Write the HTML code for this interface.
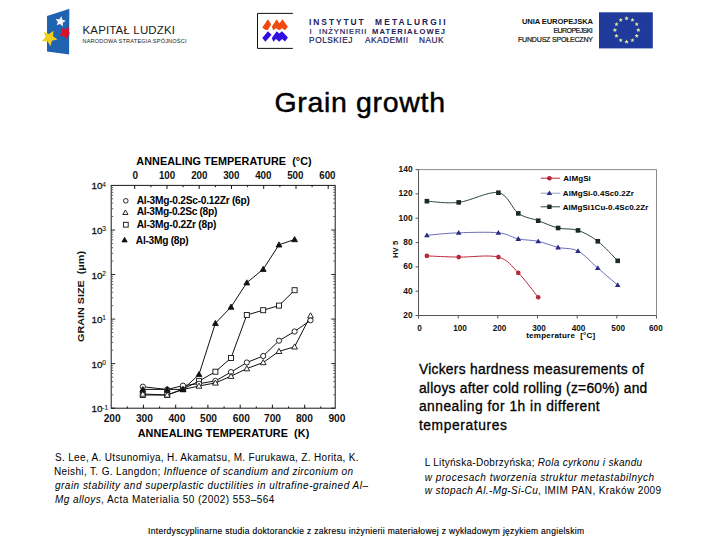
<!DOCTYPE html>
<html><head><meta charset="utf-8"><style>
html,body{margin:0;padding:0;background:#fff;}
body{width:720px;height:540px;position:relative;overflow:hidden;}
svg{position:absolute;left:0;top:0;}
</style></head><body>
<svg width="720" height="540" viewBox="0 0 720 540">
<polygon points="47,16 69.6,8.7 69.3,54.6 47,51.5" fill="#1e62b0"/>
<polygon points="53.5,30.7 53.0,36.3 57.5,39.6 52.0,40.8 50.3,46.2 47.5,41.3 41.8,41.3 45.6,37.1 43.8,31.7 49.0,34.0" fill="#f2cf1d"/>
<polygon points="61.5,16.1 62.4,19.7 65.9,20.7 62.8,22.7 62.9,26.4 60.0,24.1 56.5,25.3 57.9,21.9 55.6,18.9 59.4,19.2" fill="#f4f4fb"/>
<polygon points="68.9,26.9 68.8,31.3 72.2,34.2 67.9,35.5 66.2,39.6 63.7,35.9 59.3,35.6 62.0,32.1 60.9,27.7 65.1,29.2" fill="#d4122a"/>
<polygon points="69.6,8 80,8 80,60 69.3,60" fill="#fff"/>
<polyline points="292.9,13.4 257.5,13.4 257.5,48.4 292.9,48.4" fill="none" stroke="#111" stroke-width="1"/>
<polygon points="262.3,27.6 267.9,19.2 271.2,24.2 267.9,30.1 265.0,29.8" fill="#f04a10"/>
<polygon points="271.8,26.8 276.7,19.2 279.3,23.4 282.5,19.2 287.9,26.8 285.0,30.3 282.1,28.2 279.2,30.3 276.0,28.2 273.3,30.3" fill="#f04a10"/>
<polygon points="262.3,38.0 267.9,31.3 271.5,34.7 265.4,41.8" fill="#3010e0"/>
<polygon points="271.8,38.0 276.7,31.3 279.2,33.4 282.1,31.3 287.9,37.6 285.0,41.5 282.1,39.0 279.2,41.8 276.0,39.0 273.3,41.8" fill="#3010e0"/>
<rect x="599" y="12.3" width="53.8" height="36.1" fill="#1f3a9a"/>
<polygon points="638.3,27.8 638.9,29.3 640.5,29.4 639.3,30.4 639.7,32.0 638.3,31.1 636.9,32.0 637.3,30.4 636.1,29.4 637.7,29.3" fill="#e6e8a0"/>
<polygon points="636.7,33.7 637.3,35.1 638.9,35.2 637.7,36.3 638.1,37.8 636.7,37.0 635.4,37.8 635.8,36.3 634.5,35.2 636.1,35.1" fill="#e6e8a0"/>
<polygon points="632.5,37.9 633.0,39.4 634.6,39.5 633.4,40.5 633.8,42.1 632.5,41.2 631.1,42.1 631.5,40.5 630.3,39.5 631.9,39.4" fill="#e6e8a0"/>
<polygon points="626.6,39.5 627.2,41.0 628.8,41.1 627.6,42.1 628.0,43.7 626.6,42.8 625.2,43.7 625.6,42.1 624.4,41.1 626.0,41.0" fill="#e6e8a0"/>
<polygon points="620.8,37.9 621.3,39.4 622.9,39.5 621.7,40.5 622.1,42.1 620.8,41.2 619.4,42.1 619.8,40.5 618.6,39.5 620.2,39.4" fill="#e6e8a0"/>
<polygon points="616.5,33.7 617.1,35.1 618.7,35.2 617.4,36.3 617.8,37.8 616.5,37.0 615.1,37.8 615.5,36.3 614.3,35.2 615.9,35.1" fill="#e6e8a0"/>
<polygon points="614.9,27.8 615.5,29.3 617.1,29.4 615.9,30.4 616.3,32.0 614.9,31.1 613.5,32.0 613.9,30.4 612.7,29.4 614.3,29.3" fill="#e6e8a0"/>
<polygon points="616.5,21.9 617.1,23.4 618.7,23.5 617.4,24.6 617.8,26.1 616.5,25.2 615.1,26.1 615.5,24.6 614.3,23.5 615.9,23.4" fill="#e6e8a0"/>
<polygon points="620.8,17.7 621.3,19.2 622.9,19.3 621.7,20.3 622.1,21.8 620.8,21.0 619.4,21.8 619.8,20.3 618.6,19.3 620.2,19.2" fill="#e6e8a0"/>
<polygon points="626.6,16.1 627.2,17.6 628.8,17.7 627.6,18.7 628.0,20.3 626.6,19.4 625.2,20.3 625.6,18.7 624.4,17.7 626.0,17.6" fill="#e6e8a0"/>
<polygon points="632.5,17.7 633.0,19.2 634.6,19.3 633.4,20.3 633.8,21.8 632.5,21.0 631.1,21.8 631.5,20.3 630.3,19.3 631.9,19.2" fill="#e6e8a0"/>
<polygon points="636.7,21.9 637.3,23.4 638.9,23.5 637.7,24.6 638.1,26.1 636.7,25.2 635.4,26.1 635.8,24.6 634.5,23.5 636.1,23.4" fill="#e6e8a0"/>
<rect x="111.2" y="185.4" width="224.0" height="222.79999999999998" fill="none" stroke="#1a1a1a" stroke-width="1"/>
<line x1="127.3" y1="408.2" x2="127.3" y2="406.4" stroke="#111" stroke-width="1"/>
<line x1="143.4" y1="408.2" x2="143.4" y2="404.7" stroke="#111" stroke-width="1"/>
<line x1="159.6" y1="408.2" x2="159.6" y2="406.4" stroke="#111" stroke-width="1"/>
<line x1="175.7" y1="408.2" x2="175.7" y2="404.7" stroke="#111" stroke-width="1"/>
<line x1="191.8" y1="408.2" x2="191.8" y2="406.4" stroke="#111" stroke-width="1"/>
<line x1="207.9" y1="408.2" x2="207.9" y2="404.7" stroke="#111" stroke-width="1"/>
<line x1="224.1" y1="408.2" x2="224.1" y2="406.4" stroke="#111" stroke-width="1"/>
<line x1="240.2" y1="408.2" x2="240.2" y2="404.7" stroke="#111" stroke-width="1"/>
<line x1="256.3" y1="408.2" x2="256.3" y2="406.4" stroke="#111" stroke-width="1"/>
<line x1="272.4" y1="408.2" x2="272.4" y2="404.7" stroke="#111" stroke-width="1"/>
<line x1="288.6" y1="408.2" x2="288.6" y2="406.4" stroke="#111" stroke-width="1"/>
<line x1="304.7" y1="408.2" x2="304.7" y2="404.7" stroke="#111" stroke-width="1"/>
<line x1="320.8" y1="408.2" x2="320.8" y2="406.4" stroke="#111" stroke-width="1"/>
<line x1="134.7" y1="185.4" x2="134.7" y2="188.9" stroke="#111" stroke-width="1"/>
<line x1="150.9" y1="185.4" x2="150.9" y2="187.20000000000002" stroke="#111" stroke-width="1"/>
<line x1="167.0" y1="185.4" x2="167.0" y2="188.9" stroke="#111" stroke-width="1"/>
<line x1="183.1" y1="185.4" x2="183.1" y2="187.20000000000002" stroke="#111" stroke-width="1"/>
<line x1="199.2" y1="185.4" x2="199.2" y2="188.9" stroke="#111" stroke-width="1"/>
<line x1="215.4" y1="185.4" x2="215.4" y2="187.20000000000002" stroke="#111" stroke-width="1"/>
<line x1="231.5" y1="185.4" x2="231.5" y2="188.9" stroke="#111" stroke-width="1"/>
<line x1="247.6" y1="185.4" x2="247.6" y2="187.20000000000002" stroke="#111" stroke-width="1"/>
<line x1="263.7" y1="185.4" x2="263.7" y2="188.9" stroke="#111" stroke-width="1"/>
<line x1="279.9" y1="185.4" x2="279.9" y2="187.20000000000002" stroke="#111" stroke-width="1"/>
<line x1="296.0" y1="185.4" x2="296.0" y2="188.9" stroke="#111" stroke-width="1"/>
<line x1="312.1" y1="185.4" x2="312.1" y2="187.20000000000002" stroke="#111" stroke-width="1"/>
<line x1="328.2" y1="185.4" x2="328.2" y2="188.9" stroke="#111" stroke-width="1"/>
<line x1="111.2" y1="408.2" x2="115.2" y2="408.2" stroke="#111" stroke-width="0.9"/>
<line x1="335.2" y1="408.2" x2="331.2" y2="408.2" stroke="#111" stroke-width="0.9"/>
<line x1="111.2" y1="394.8" x2="113.2" y2="394.8" stroke="#555" stroke-width="0.9"/>
<line x1="335.2" y1="394.8" x2="333.2" y2="394.8" stroke="#555" stroke-width="0.9"/>
<line x1="111.2" y1="386.9" x2="113.2" y2="386.9" stroke="#555" stroke-width="0.9"/>
<line x1="335.2" y1="386.9" x2="333.2" y2="386.9" stroke="#555" stroke-width="0.9"/>
<line x1="111.2" y1="381.4" x2="113.2" y2="381.4" stroke="#555" stroke-width="0.9"/>
<line x1="335.2" y1="381.4" x2="333.2" y2="381.4" stroke="#555" stroke-width="0.9"/>
<line x1="111.2" y1="377.1" x2="113.2" y2="377.1" stroke="#555" stroke-width="0.9"/>
<line x1="335.2" y1="377.1" x2="333.2" y2="377.1" stroke="#555" stroke-width="0.9"/>
<line x1="111.2" y1="373.5" x2="113.2" y2="373.5" stroke="#555" stroke-width="0.9"/>
<line x1="335.2" y1="373.5" x2="333.2" y2="373.5" stroke="#555" stroke-width="0.9"/>
<line x1="111.2" y1="370.5" x2="113.2" y2="370.5" stroke="#555" stroke-width="0.9"/>
<line x1="335.2" y1="370.5" x2="333.2" y2="370.5" stroke="#555" stroke-width="0.9"/>
<line x1="111.2" y1="368.0" x2="113.2" y2="368.0" stroke="#555" stroke-width="0.9"/>
<line x1="335.2" y1="368.0" x2="333.2" y2="368.0" stroke="#555" stroke-width="0.9"/>
<line x1="111.2" y1="365.7" x2="113.2" y2="365.7" stroke="#555" stroke-width="0.9"/>
<line x1="335.2" y1="365.7" x2="333.2" y2="365.7" stroke="#555" stroke-width="0.9"/>
<line x1="111.2" y1="363.6" x2="115.2" y2="363.6" stroke="#111" stroke-width="0.9"/>
<line x1="335.2" y1="363.6" x2="331.2" y2="363.6" stroke="#111" stroke-width="0.9"/>
<line x1="111.2" y1="350.2" x2="113.2" y2="350.2" stroke="#555" stroke-width="0.9"/>
<line x1="335.2" y1="350.2" x2="333.2" y2="350.2" stroke="#555" stroke-width="0.9"/>
<line x1="111.2" y1="342.4" x2="113.2" y2="342.4" stroke="#555" stroke-width="0.9"/>
<line x1="335.2" y1="342.4" x2="333.2" y2="342.4" stroke="#555" stroke-width="0.9"/>
<line x1="111.2" y1="336.8" x2="113.2" y2="336.8" stroke="#555" stroke-width="0.9"/>
<line x1="335.2" y1="336.8" x2="333.2" y2="336.8" stroke="#555" stroke-width="0.9"/>
<line x1="111.2" y1="332.5" x2="113.2" y2="332.5" stroke="#555" stroke-width="0.9"/>
<line x1="335.2" y1="332.5" x2="333.2" y2="332.5" stroke="#555" stroke-width="0.9"/>
<line x1="111.2" y1="329.0" x2="113.2" y2="329.0" stroke="#555" stroke-width="0.9"/>
<line x1="335.2" y1="329.0" x2="333.2" y2="329.0" stroke="#555" stroke-width="0.9"/>
<line x1="111.2" y1="326.0" x2="113.2" y2="326.0" stroke="#555" stroke-width="0.9"/>
<line x1="335.2" y1="326.0" x2="333.2" y2="326.0" stroke="#555" stroke-width="0.9"/>
<line x1="111.2" y1="323.4" x2="113.2" y2="323.4" stroke="#555" stroke-width="0.9"/>
<line x1="335.2" y1="323.4" x2="333.2" y2="323.4" stroke="#555" stroke-width="0.9"/>
<line x1="111.2" y1="321.1" x2="113.2" y2="321.1" stroke="#555" stroke-width="0.9"/>
<line x1="335.2" y1="321.1" x2="333.2" y2="321.1" stroke="#555" stroke-width="0.9"/>
<line x1="111.2" y1="319.1" x2="115.2" y2="319.1" stroke="#111" stroke-width="0.9"/>
<line x1="335.2" y1="319.1" x2="331.2" y2="319.1" stroke="#111" stroke-width="0.9"/>
<line x1="111.2" y1="305.7" x2="113.2" y2="305.7" stroke="#555" stroke-width="0.9"/>
<line x1="335.2" y1="305.7" x2="333.2" y2="305.7" stroke="#555" stroke-width="0.9"/>
<line x1="111.2" y1="297.8" x2="113.2" y2="297.8" stroke="#555" stroke-width="0.9"/>
<line x1="335.2" y1="297.8" x2="333.2" y2="297.8" stroke="#555" stroke-width="0.9"/>
<line x1="111.2" y1="292.3" x2="113.2" y2="292.3" stroke="#555" stroke-width="0.9"/>
<line x1="335.2" y1="292.3" x2="333.2" y2="292.3" stroke="#555" stroke-width="0.9"/>
<line x1="111.2" y1="287.9" x2="113.2" y2="287.9" stroke="#555" stroke-width="0.9"/>
<line x1="335.2" y1="287.9" x2="333.2" y2="287.9" stroke="#555" stroke-width="0.9"/>
<line x1="111.2" y1="284.4" x2="113.2" y2="284.4" stroke="#555" stroke-width="0.9"/>
<line x1="335.2" y1="284.4" x2="333.2" y2="284.4" stroke="#555" stroke-width="0.9"/>
<line x1="111.2" y1="281.4" x2="113.2" y2="281.4" stroke="#555" stroke-width="0.9"/>
<line x1="335.2" y1="281.4" x2="333.2" y2="281.4" stroke="#555" stroke-width="0.9"/>
<line x1="111.2" y1="278.8" x2="113.2" y2="278.8" stroke="#555" stroke-width="0.9"/>
<line x1="335.2" y1="278.8" x2="333.2" y2="278.8" stroke="#555" stroke-width="0.9"/>
<line x1="111.2" y1="276.6" x2="113.2" y2="276.6" stroke="#555" stroke-width="0.9"/>
<line x1="335.2" y1="276.6" x2="333.2" y2="276.6" stroke="#555" stroke-width="0.9"/>
<line x1="111.2" y1="274.5" x2="115.2" y2="274.5" stroke="#111" stroke-width="0.9"/>
<line x1="335.2" y1="274.5" x2="331.2" y2="274.5" stroke="#111" stroke-width="0.9"/>
<line x1="111.2" y1="261.1" x2="113.2" y2="261.1" stroke="#555" stroke-width="0.9"/>
<line x1="335.2" y1="261.1" x2="333.2" y2="261.1" stroke="#555" stroke-width="0.9"/>
<line x1="111.2" y1="253.3" x2="113.2" y2="253.3" stroke="#555" stroke-width="0.9"/>
<line x1="335.2" y1="253.3" x2="333.2" y2="253.3" stroke="#555" stroke-width="0.9"/>
<line x1="111.2" y1="247.7" x2="113.2" y2="247.7" stroke="#555" stroke-width="0.9"/>
<line x1="335.2" y1="247.7" x2="333.2" y2="247.7" stroke="#555" stroke-width="0.9"/>
<line x1="111.2" y1="243.4" x2="113.2" y2="243.4" stroke="#555" stroke-width="0.9"/>
<line x1="335.2" y1="243.4" x2="333.2" y2="243.4" stroke="#555" stroke-width="0.9"/>
<line x1="111.2" y1="239.8" x2="113.2" y2="239.8" stroke="#555" stroke-width="0.9"/>
<line x1="335.2" y1="239.8" x2="333.2" y2="239.8" stroke="#555" stroke-width="0.9"/>
<line x1="111.2" y1="236.9" x2="113.2" y2="236.9" stroke="#555" stroke-width="0.9"/>
<line x1="335.2" y1="236.9" x2="333.2" y2="236.9" stroke="#555" stroke-width="0.9"/>
<line x1="111.2" y1="234.3" x2="113.2" y2="234.3" stroke="#555" stroke-width="0.9"/>
<line x1="335.2" y1="234.3" x2="333.2" y2="234.3" stroke="#555" stroke-width="0.9"/>
<line x1="111.2" y1="232.0" x2="113.2" y2="232.0" stroke="#555" stroke-width="0.9"/>
<line x1="335.2" y1="232.0" x2="333.2" y2="232.0" stroke="#555" stroke-width="0.9"/>
<line x1="111.2" y1="230.0" x2="115.2" y2="230.0" stroke="#111" stroke-width="0.9"/>
<line x1="335.2" y1="230.0" x2="331.2" y2="230.0" stroke="#111" stroke-width="0.9"/>
<line x1="111.2" y1="216.5" x2="113.2" y2="216.5" stroke="#555" stroke-width="0.9"/>
<line x1="335.2" y1="216.5" x2="333.2" y2="216.5" stroke="#555" stroke-width="0.9"/>
<line x1="111.2" y1="208.7" x2="113.2" y2="208.7" stroke="#555" stroke-width="0.9"/>
<line x1="335.2" y1="208.7" x2="333.2" y2="208.7" stroke="#555" stroke-width="0.9"/>
<line x1="111.2" y1="203.1" x2="113.2" y2="203.1" stroke="#555" stroke-width="0.9"/>
<line x1="335.2" y1="203.1" x2="333.2" y2="203.1" stroke="#555" stroke-width="0.9"/>
<line x1="111.2" y1="198.8" x2="113.2" y2="198.8" stroke="#555" stroke-width="0.9"/>
<line x1="335.2" y1="198.8" x2="333.2" y2="198.8" stroke="#555" stroke-width="0.9"/>
<line x1="111.2" y1="195.3" x2="113.2" y2="195.3" stroke="#555" stroke-width="0.9"/>
<line x1="335.2" y1="195.3" x2="333.2" y2="195.3" stroke="#555" stroke-width="0.9"/>
<line x1="111.2" y1="192.3" x2="113.2" y2="192.3" stroke="#555" stroke-width="0.9"/>
<line x1="335.2" y1="192.3" x2="333.2" y2="192.3" stroke="#555" stroke-width="0.9"/>
<line x1="111.2" y1="189.7" x2="113.2" y2="189.7" stroke="#555" stroke-width="0.9"/>
<line x1="335.2" y1="189.7" x2="333.2" y2="189.7" stroke="#555" stroke-width="0.9"/>
<line x1="111.2" y1="187.4" x2="113.2" y2="187.4" stroke="#555" stroke-width="0.9"/>
<line x1="335.2" y1="187.4" x2="333.2" y2="187.4" stroke="#555" stroke-width="0.9"/>
<text x="112.2" y="421.9" text-anchor="middle" textLength="17" lengthAdjust="spacingAndGlyphs" style="font-family:'Liberation Sans', sans-serif;font-weight:bold;fill:#111;font-size:10px">200</text>
<text x="144.4" y="421.9" text-anchor="middle" textLength="17" lengthAdjust="spacingAndGlyphs" style="font-family:'Liberation Sans', sans-serif;font-weight:bold;fill:#111;font-size:10px">300</text>
<text x="176.9" y="421.9" text-anchor="middle" textLength="17" lengthAdjust="spacingAndGlyphs" style="font-family:'Liberation Sans', sans-serif;font-weight:bold;fill:#111;font-size:10px">400</text>
<text x="208.5" y="421.9" text-anchor="middle" textLength="17" lengthAdjust="spacingAndGlyphs" style="font-family:'Liberation Sans', sans-serif;font-weight:bold;fill:#111;font-size:10px">500</text>
<text x="241.3" y="421.9" text-anchor="middle" textLength="17" lengthAdjust="spacingAndGlyphs" style="font-family:'Liberation Sans', sans-serif;font-weight:bold;fill:#111;font-size:10px">600</text>
<text x="272.5" y="421.9" text-anchor="middle" textLength="17" lengthAdjust="spacingAndGlyphs" style="font-family:'Liberation Sans', sans-serif;font-weight:bold;fill:#111;font-size:10px">700</text>
<text x="304.4" y="421.9" text-anchor="middle" textLength="17" lengthAdjust="spacingAndGlyphs" style="font-family:'Liberation Sans', sans-serif;font-weight:bold;fill:#111;font-size:10px">800</text>
<text x="336.9" y="421.9" text-anchor="middle" textLength="17" lengthAdjust="spacingAndGlyphs" style="font-family:'Liberation Sans', sans-serif;font-weight:bold;fill:#111;font-size:10px">900</text>
<text x="135.2" y="179.3" text-anchor="middle" style="font-family:'Liberation Sans', sans-serif;font-weight:bold;fill:#111;font-size:10px">0</text>
<text x="167.1" y="179.3" text-anchor="middle" textLength="16.3" lengthAdjust="spacingAndGlyphs" style="font-family:'Liberation Sans', sans-serif;font-weight:bold;fill:#111;font-size:10px">100</text>
<text x="199.3" y="179.3" text-anchor="middle" textLength="16.3" lengthAdjust="spacingAndGlyphs" style="font-family:'Liberation Sans', sans-serif;font-weight:bold;fill:#111;font-size:10px">200</text>
<text x="231.3" y="179.3" text-anchor="middle" textLength="16.3" lengthAdjust="spacingAndGlyphs" style="font-family:'Liberation Sans', sans-serif;font-weight:bold;fill:#111;font-size:10px">300</text>
<text x="263.3" y="179.3" text-anchor="middle" textLength="16.3" lengthAdjust="spacingAndGlyphs" style="font-family:'Liberation Sans', sans-serif;font-weight:bold;fill:#111;font-size:10px">400</text>
<text x="295.3" y="179.3" text-anchor="middle" textLength="16.3" lengthAdjust="spacingAndGlyphs" style="font-family:'Liberation Sans', sans-serif;font-weight:bold;fill:#111;font-size:10px">500</text>
<text x="327.4" y="179.3" text-anchor="middle" textLength="16.3" lengthAdjust="spacingAndGlyphs" style="font-family:'Liberation Sans', sans-serif;font-weight:bold;fill:#111;font-size:10px">600</text>
<text x="91.5" y="412.2" textLength="11" lengthAdjust="spacingAndGlyphs" style="font-family:'Liberation Sans', sans-serif;font-weight:bold;fill:#111;font-size:9.8px;font-weight:normal;stroke:#111;stroke-width:0.3">10</text>
<text x="102.3" y="409.5" style="font-family:'Liberation Sans', sans-serif;font-weight:bold;fill:#111;font-size:6.6px;font-weight:normal;stroke:#111;stroke-width:0.1">-1</text>
<text x="91.5" y="367.6" textLength="11" lengthAdjust="spacingAndGlyphs" style="font-family:'Liberation Sans', sans-serif;font-weight:bold;fill:#111;font-size:9.8px;font-weight:normal;stroke:#111;stroke-width:0.3">10</text>
<text x="102.3" y="364.9" style="font-family:'Liberation Sans', sans-serif;font-weight:bold;fill:#111;font-size:6.6px;font-weight:normal;stroke:#111;stroke-width:0.1">0</text>
<text x="91.5" y="323.1" textLength="11" lengthAdjust="spacingAndGlyphs" style="font-family:'Liberation Sans', sans-serif;font-weight:bold;fill:#111;font-size:9.8px;font-weight:normal;stroke:#111;stroke-width:0.3">10</text>
<text x="102.3" y="320.4" style="font-family:'Liberation Sans', sans-serif;font-weight:bold;fill:#111;font-size:6.6px;font-weight:normal;stroke:#111;stroke-width:0.1">1</text>
<text x="91.5" y="278.5" textLength="11" lengthAdjust="spacingAndGlyphs" style="font-family:'Liberation Sans', sans-serif;font-weight:bold;fill:#111;font-size:9.8px;font-weight:normal;stroke:#111;stroke-width:0.3">10</text>
<text x="102.3" y="275.8" style="font-family:'Liberation Sans', sans-serif;font-weight:bold;fill:#111;font-size:6.6px;font-weight:normal;stroke:#111;stroke-width:0.1">2</text>
<text x="91.5" y="234.0" textLength="11" lengthAdjust="spacingAndGlyphs" style="font-family:'Liberation Sans', sans-serif;font-weight:bold;fill:#111;font-size:9.8px;font-weight:normal;stroke:#111;stroke-width:0.3">10</text>
<text x="102.3" y="231.3" style="font-family:'Liberation Sans', sans-serif;font-weight:bold;fill:#111;font-size:6.6px;font-weight:normal;stroke:#111;stroke-width:0.1">3</text>
<text x="91.5" y="189.4" textLength="11" lengthAdjust="spacingAndGlyphs" style="font-family:'Liberation Sans', sans-serif;font-weight:bold;fill:#111;font-size:9.8px;font-weight:normal;stroke:#111;stroke-width:0.3">10</text>
<text x="102.3" y="186.7" style="font-family:'Liberation Sans', sans-serif;font-weight:bold;fill:#111;font-size:6.6px;font-weight:normal;stroke:#111;stroke-width:0.1">4</text>
<text transform="translate(84.4,296.5) rotate(-90)" text-anchor="middle" textLength="91" lengthAdjust="spacingAndGlyphs" style="font-family:'Liberation Sans', sans-serif;font-weight:bold;fill:#111;font-size:9.6px">GRAIN SIZE&#160;&#160;(μm)</text>
<polyline points="142.8,389.4 167.2,389.4 183.0,389.4 199.0,374.4 215.4,323.3 231.0,307.0 246.8,282.7 263.2,269.2 279.0,244.8 294.6,239.5" fill="none" stroke="#111" stroke-width="1"/>
<polyline points="142.8,395.0 167.2,395.0 183.0,389.0 199.0,381.1 215.4,371.7 231.0,358.0 246.8,315.0 263.2,310.2 279.0,305.6 294.6,290.2" fill="none" stroke="#111" stroke-width="1"/>
<polyline points="142.8,386.7 167.2,389.5 183.0,385.6 199.0,383.7 215.4,380.9 231.0,372.1 246.8,362.5 263.2,356.0 279.0,340.7 294.6,331.5 310.5,320.3" fill="none" stroke="#111" stroke-width="1"/>
<polyline points="142.8,394.0 167.2,395.0 183.0,389.5 199.0,386.0 215.4,382.9 231.0,376.2 246.8,368.6 263.2,362.5 279.0,351.3 294.6,346.8 310.5,315.7" fill="none" stroke="#111" stroke-width="1"/>
<rect x="140.3" y="392.5" width="5.0" height="5.0" fill="#fff" stroke="#111" stroke-width="0.9"/>
<rect x="164.7" y="392.5" width="5.0" height="5.0" fill="#fff" stroke="#111" stroke-width="0.9"/>
<rect x="180.5" y="386.5" width="5.0" height="5.0" fill="#fff" stroke="#111" stroke-width="0.9"/>
<rect x="196.5" y="378.6" width="5.0" height="5.0" fill="#fff" stroke="#111" stroke-width="0.9"/>
<rect x="212.9" y="369.2" width="5.0" height="5.0" fill="#fff" stroke="#111" stroke-width="0.9"/>
<rect x="228.5" y="355.5" width="5.0" height="5.0" fill="#fff" stroke="#111" stroke-width="0.9"/>
<rect x="244.3" y="312.5" width="5.0" height="5.0" fill="#fff" stroke="#111" stroke-width="0.9"/>
<rect x="260.7" y="307.7" width="5.0" height="5.0" fill="#fff" stroke="#111" stroke-width="0.9"/>
<rect x="276.5" y="303.1" width="5.0" height="5.0" fill="#fff" stroke="#111" stroke-width="0.9"/>
<rect x="292.1" y="287.7" width="5.0" height="5.0" fill="#fff" stroke="#111" stroke-width="0.9"/>
<circle cx="142.8" cy="386.7" r="2.6" fill="#fff" stroke="#111" stroke-width="0.9"/>
<circle cx="167.2" cy="389.5" r="2.6" fill="#fff" stroke="#111" stroke-width="0.9"/>
<circle cx="183.0" cy="385.6" r="2.6" fill="#fff" stroke="#111" stroke-width="0.9"/>
<circle cx="199.0" cy="383.7" r="2.6" fill="#fff" stroke="#111" stroke-width="0.9"/>
<circle cx="215.4" cy="380.9" r="2.6" fill="#fff" stroke="#111" stroke-width="0.9"/>
<circle cx="231.0" cy="372.1" r="2.6" fill="#fff" stroke="#111" stroke-width="0.9"/>
<circle cx="246.8" cy="362.5" r="2.6" fill="#fff" stroke="#111" stroke-width="0.9"/>
<circle cx="263.2" cy="356.0" r="2.6" fill="#fff" stroke="#111" stroke-width="0.9"/>
<circle cx="279.0" cy="340.7" r="2.6" fill="#fff" stroke="#111" stroke-width="0.9"/>
<circle cx="294.6" cy="331.5" r="2.6" fill="#fff" stroke="#111" stroke-width="0.9"/>
<circle cx="310.5" cy="320.3" r="2.6" fill="#fff" stroke="#111" stroke-width="0.9"/>
<polygon points="142.8,391.1 145.7,396.2 139.9,396.2" fill="#fff" stroke="#111" stroke-width="0.9"/>
<polygon points="167.2,392.1 170.1,397.2 164.3,397.2" fill="#fff" stroke="#111" stroke-width="0.9"/>
<polygon points="183.0,386.6 185.9,391.7 180.1,391.7" fill="#fff" stroke="#111" stroke-width="0.9"/>
<polygon points="199.0,383.1 201.9,388.2 196.1,388.2" fill="#fff" stroke="#111" stroke-width="0.9"/>
<polygon points="215.4,380.0 218.3,385.1 212.5,385.1" fill="#fff" stroke="#111" stroke-width="0.9"/>
<polygon points="231.0,373.3 233.9,378.4 228.1,378.4" fill="#fff" stroke="#111" stroke-width="0.9"/>
<polygon points="246.8,365.7 249.7,370.8 243.9,370.8" fill="#fff" stroke="#111" stroke-width="0.9"/>
<polygon points="263.2,359.6 266.1,364.7 260.3,364.7" fill="#fff" stroke="#111" stroke-width="0.9"/>
<polygon points="279.0,348.4 281.9,353.5 276.1,353.5" fill="#fff" stroke="#111" stroke-width="0.9"/>
<polygon points="294.6,343.9 297.5,349.0 291.7,349.0" fill="#fff" stroke="#111" stroke-width="0.9"/>
<polygon points="310.5,312.8 313.4,317.9 307.6,317.9" fill="#fff" stroke="#111" stroke-width="0.9"/>
<polygon points="142.8,386.5 145.7,391.6 139.9,391.6" fill="#111" stroke="#111" stroke-width="0.9"/>
<polygon points="167.2,386.5 170.1,391.6 164.3,391.6" fill="#111" stroke="#111" stroke-width="0.9"/>
<polygon points="183.0,386.5 185.9,391.6 180.1,391.6" fill="#111" stroke="#111" stroke-width="0.9"/>
<polygon points="199.0,371.5 201.9,376.6 196.1,376.6" fill="#111" stroke="#111" stroke-width="0.9"/>
<polygon points="215.4,320.4 218.3,325.5 212.5,325.5" fill="#111" stroke="#111" stroke-width="0.9"/>
<polygon points="231.0,304.1 233.9,309.2 228.1,309.2" fill="#111" stroke="#111" stroke-width="0.9"/>
<polygon points="246.8,279.8 249.7,284.9 243.9,284.9" fill="#111" stroke="#111" stroke-width="0.9"/>
<polygon points="263.2,266.3 266.1,271.4 260.3,271.4" fill="#111" stroke="#111" stroke-width="0.9"/>
<polygon points="279.0,241.9 281.9,247.0 276.1,247.0" fill="#111" stroke="#111" stroke-width="0.9"/>
<polygon points="294.6,236.6 297.5,241.7 291.7,241.7" fill="#111" stroke="#111" stroke-width="0.9"/>
<circle cx="125.8" cy="200.8" r="2.3" fill="#fff" stroke="#111" stroke-width="0.9"/>
<polygon points="125.4,210.0 128.0,214.5 122.8,214.5" fill="#fff" stroke="#111" stroke-width="0.9"/>
<rect x="123.4" y="222.3" width="4.8" height="4.8" fill="#fff" stroke="#111" stroke-width="0.9"/>
<polygon points="124.6,237.4 127.2,241.9 122.0,241.9" fill="#111" stroke="#111" stroke-width="0.9"/>
<polyline points="418.5,169.6 656.5,169.6 656.5,315.5" fill="none" stroke="#8a8a8a" stroke-width="1"/>
<polyline points="418.5,169.6 418.5,315.5 656.5,315.5" fill="none" stroke="#555" stroke-width="1"/>
<line x1="415.5" y1="315.5" x2="418.5" y2="315.5" stroke="#555" stroke-width="1"/>
<text x="412.6" y="318.0" text-anchor="end" style="font-family:'Liberation Sans', sans-serif;font-weight:bold;fill:#111;font-size:8.4px">20</text>
<line x1="415.5" y1="291.2" x2="418.5" y2="291.2" stroke="#555" stroke-width="1"/>
<text x="412.6" y="293.7" text-anchor="end" style="font-family:'Liberation Sans', sans-serif;font-weight:bold;fill:#111;font-size:8.4px">40</text>
<line x1="415.5" y1="266.9" x2="418.5" y2="266.9" stroke="#555" stroke-width="1"/>
<text x="412.6" y="269.4" text-anchor="end" style="font-family:'Liberation Sans', sans-serif;font-weight:bold;fill:#111;font-size:8.4px">60</text>
<line x1="415.5" y1="242.6" x2="418.5" y2="242.6" stroke="#555" stroke-width="1"/>
<text x="412.6" y="245.1" text-anchor="end" style="font-family:'Liberation Sans', sans-serif;font-weight:bold;fill:#111;font-size:8.4px">80</text>
<line x1="415.5" y1="218.2" x2="418.5" y2="218.2" stroke="#555" stroke-width="1"/>
<text x="412.6" y="220.7" text-anchor="end" style="font-family:'Liberation Sans', sans-serif;font-weight:bold;fill:#111;font-size:8.4px">100</text>
<line x1="415.5" y1="193.9" x2="418.5" y2="193.9" stroke="#555" stroke-width="1"/>
<text x="412.6" y="196.4" text-anchor="end" style="font-family:'Liberation Sans', sans-serif;font-weight:bold;fill:#111;font-size:8.4px">120</text>
<line x1="415.5" y1="169.6" x2="418.5" y2="169.6" stroke="#555" stroke-width="1"/>
<text x="412.6" y="172.1" text-anchor="end" style="font-family:'Liberation Sans', sans-serif;font-weight:bold;fill:#111;font-size:8.4px">140</text>
<line x1="418.5" y1="315.5" x2="418.5" y2="318.5" stroke="#555" stroke-width="1"/>
<text x="419.6" y="330.8" text-anchor="middle" style="font-family:'Liberation Sans', sans-serif;font-weight:bold;fill:#111;font-size:8.2px">0</text>
<line x1="458.2" y1="315.5" x2="458.2" y2="318.5" stroke="#555" stroke-width="1"/>
<text x="460.0" y="330.8" text-anchor="middle" style="font-family:'Liberation Sans', sans-serif;font-weight:bold;fill:#111;font-size:8.2px">100</text>
<line x1="497.8" y1="315.5" x2="497.8" y2="318.5" stroke="#555" stroke-width="1"/>
<text x="499.5" y="330.8" text-anchor="middle" style="font-family:'Liberation Sans', sans-serif;font-weight:bold;fill:#111;font-size:8.2px">200</text>
<line x1="537.5" y1="315.5" x2="537.5" y2="318.5" stroke="#555" stroke-width="1"/>
<text x="539.1" y="330.8" text-anchor="middle" style="font-family:'Liberation Sans', sans-serif;font-weight:bold;fill:#111;font-size:8.2px">300</text>
<line x1="577.2" y1="315.5" x2="577.2" y2="318.5" stroke="#555" stroke-width="1"/>
<text x="578.6" y="330.8" text-anchor="middle" style="font-family:'Liberation Sans', sans-serif;font-weight:bold;fill:#111;font-size:8.2px">400</text>
<line x1="616.8" y1="315.5" x2="616.8" y2="318.5" stroke="#555" stroke-width="1"/>
<text x="618.2" y="330.8" text-anchor="middle" style="font-family:'Liberation Sans', sans-serif;font-weight:bold;fill:#111;font-size:8.2px">500</text>
<line x1="656.5" y1="315.5" x2="656.5" y2="318.5" stroke="#555" stroke-width="1"/>
<text x="655.9" y="330.8" text-anchor="middle" style="font-family:'Liberation Sans', sans-serif;font-weight:bold;fill:#111;font-size:8.2px">600</text>
<text transform="translate(397.6,249.4) rotate(-90)" text-anchor="middle" textLength="17.2" lengthAdjust="spacingAndGlyphs" style="font-family:'Liberation Sans', sans-serif;font-weight:bold;fill:#111;font-size:8px">HV 5</text>
<path d="M426.9,255.9 C432.2,256.1 446.8,256.9 458.7,257.1 C470.6,257.3 488.5,254.5 498.4,257.1 C508.4,259.8 511.7,266.3 518.3,272.9 C525.0,279.6 534.9,293.2 538.2,297.3" fill="none" stroke="#c0283a" stroke-width="1"/>
<circle cx="426.9" cy="255.9" r="2.3" fill="#b82838"/>
<circle cx="458.7" cy="257.1" r="2.3" fill="#b82838"/>
<circle cx="498.4" cy="257.1" r="2.3" fill="#b82838"/>
<circle cx="518.3" cy="272.9" r="2.3" fill="#b82838"/>
<circle cx="538.2" cy="297.3" r="2.3" fill="#b82838"/>
<path d="M426.9,235.3 C432.2,234.8 446.8,233.2 458.7,232.8 C470.6,232.4 488.5,231.8 498.4,232.8 C508.4,233.8 511.7,237.5 518.3,238.9 C525.0,240.3 531.6,239.9 538.2,241.3 C544.8,242.8 551.5,245.8 558.1,247.4 C564.7,249.0 571.3,247.6 578.0,251.1 C584.6,254.5 591.2,262.4 597.8,268.1 C604.5,273.8 614.4,282.3 617.7,285.1" fill="none" stroke="#6d6db8" stroke-width="1"/>
<polygon points="426.9,232.4 429.7,237.3 424.1,237.3" fill="#2a2a80"/>
<polygon points="458.7,229.9 461.5,234.8 455.9,234.8" fill="#2a2a80"/>
<polygon points="498.4,229.9 501.2,234.8 495.6,234.8" fill="#2a2a80"/>
<polygon points="518.3,236.0 521.1,240.9 515.5,240.9" fill="#2a2a80"/>
<polygon points="538.2,238.4 541.0,243.3 535.4,243.3" fill="#2a2a80"/>
<polygon points="558.1,244.5 560.9,249.4 555.3,249.4" fill="#2a2a80"/>
<polygon points="578.0,248.2 580.8,253.1 575.2,253.1" fill="#2a2a80"/>
<polygon points="597.8,265.2 600.6,270.1 595.0,270.1" fill="#2a2a80"/>
<polygon points="617.7,282.2 620.5,287.1 614.9,287.1" fill="#2a2a80"/>
<path d="M426.9,201.2 C432.2,201.4 446.8,203.8 458.7,202.4 C470.6,201.0 488.5,190.9 498.4,192.7 C508.4,194.5 511.7,208.7 518.3,213.4 C525.0,218.0 531.6,218.2 538.2,220.7 C544.8,223.1 551.5,226.3 558.1,228.0 C564.7,229.6 571.3,228.2 578.0,230.4 C584.6,232.6 591.2,236.3 597.8,241.3 C604.5,246.4 614.4,257.5 617.7,260.8" fill="none" stroke="#2d4a3a" stroke-width="1"/>
<rect x="424.6" y="198.9" width="4.6" height="4.6" fill="#1a2a22"/>
<rect x="456.4" y="200.1" width="4.6" height="4.6" fill="#1a2a22"/>
<rect x="496.1" y="190.4" width="4.6" height="4.6" fill="#1a2a22"/>
<rect x="516.0" y="211.1" width="4.6" height="4.6" fill="#1a2a22"/>
<rect x="535.9" y="218.4" width="4.6" height="4.6" fill="#1a2a22"/>
<rect x="555.8" y="225.7" width="4.6" height="4.6" fill="#1a2a22"/>
<rect x="575.7" y="228.1" width="4.6" height="4.6" fill="#1a2a22"/>
<rect x="595.5" y="239.0" width="4.6" height="4.6" fill="#1a2a22"/>
<rect x="615.4" y="258.5" width="4.6" height="4.6" fill="#1a2a22"/>
<line x1="540.7" y1="178.2" x2="560" y2="178.2" stroke="#c0283a" stroke-width="1"/>
<circle cx="549.4" cy="178.2" r="2.3" fill="#b02030"/>
<line x1="540.7" y1="193.2" x2="560" y2="193.2" stroke="#9a9ad0" stroke-width="1"/>
<polygon points="549.4,190.4 552.2,195.0 546.6,195.0" fill="#2a2a80"/>
<line x1="540.7" y1="206.8" x2="560" y2="206.8" stroke="#2d4a3a" stroke-width="1"/>
<rect x="547.2" y="204.6" width="4.4" height="4.4" fill="#1a2a22"/>
<text x="274.40" y="111.7" textLength="170.60" lengthAdjust="spacing" style="font-family:'Liberation Sans', sans-serif;font-size:28.5px;fill:#000;font-weight:normal;stroke:#000;stroke-width:0.45">Grain growth</text>
<text x="418.90" y="373.6" textLength="225.00" lengthAdjust="spacing" style="font-family:'Liberation Sans', sans-serif;font-size:13.8px;fill:#000;stroke:#000;stroke-width:0.3">Vickers hardness measurements of</text>
<text x="418.90" y="392.7" textLength="228.40" lengthAdjust="spacing" style="font-family:'Liberation Sans', sans-serif;font-size:13.8px;fill:#000;stroke:#000;stroke-width:0.3">alloys after cold rolling (z=60%) and</text>
<text x="418.90" y="411.2" textLength="180.80" lengthAdjust="spacing" style="font-family:'Liberation Sans', sans-serif;font-size:13.8px;fill:#000;stroke:#000;stroke-width:0.3">annealing for 1h in different</text>
<text x="418.90" y="430.0" textLength="88.00" lengthAdjust="spacing" style="font-family:'Liberation Sans', sans-serif;font-size:13.8px;fill:#000;stroke:#000;stroke-width:0.3">temperatures</text>
<text x="55.00" y="460.9" textLength="303.60" lengthAdjust="spacing" style="font-family:'Liberation Sans', sans-serif;font-size:10px;fill:#000;">S. Lee, A. Utsunomiya, H. Akamatsu, M. Furukawa, Z. Horita, K.</text>
<text x="54.00" y="474.7" textLength="299.00" lengthAdjust="spacing" style="font-family:'Liberation Sans', sans-serif;font-size:10px;fill:#000;">Neishi, T. G. Langdon; <tspan font-style="italic">Influence of scandium and zirconium on</tspan></text>
<text x="55.00" y="488.8" textLength="313.00" lengthAdjust="spacing" style="font-family:'Liberation Sans', sans-serif;font-size:10px;fill:#000;font-style:italic">grain stability and superplastic ductilities in ultrafine-grained Al–</text>
<text x="55.00" y="503.0" textLength="219.20" lengthAdjust="spacing" style="font-family:'Liberation Sans', sans-serif;font-size:10px;fill:#000;"><tspan font-style="italic">Mg alloys</tspan>, Acta Materialia 50 (2002) 553–564</text>
<text x="424.70" y="465.8" textLength="217.40" lengthAdjust="spacing" style="font-family:'Liberation Sans', sans-serif;font-size:10px;fill:#000;">L Lityńska-Dobrzyńska; <tspan font-style="italic">Rola cyrkonu i skandu</tspan></text>
<text x="424.70" y="480.5" textLength="229.40" lengthAdjust="spacing" style="font-family:'Liberation Sans', sans-serif;font-size:10px;fill:#000;font-style:italic">w procesach tworzenia struktur metastabilnych</text>
<text x="424.70" y="494.3" textLength="236.40" lengthAdjust="spacing" style="font-family:'Liberation Sans', sans-serif;font-size:10px;fill:#000;"><tspan font-style="italic">w stopach Al.-Mg-Si-Cu</tspan>, IMIM PAN, Kraków 2009</text>
<text x="148.00" y="534.2" textLength="436.00" lengthAdjust="spacing" style="font-family:'Liberation Sans', sans-serif;font-size:8.5px;fill:#000;stroke:#000;stroke-width:0.15">Interdyscyplinarne studia doktoranckie z zakresu inżynierii materiałowej z wykładowym językiem angielskim</text>
<text x="136.30" y="164.5" textLength="175.40" lengthAdjust="spacing" style="font-family:'Liberation Sans', sans-serif;font-size:10.8px;fill:#000;font-weight:bold">ANNEALING TEMPERATURE&#160;&#160;(°C)</text>
<text x="137.70" y="436.7" textLength="171.60" lengthAdjust="spacing" style="font-family:'Liberation Sans', sans-serif;font-size:10.8px;fill:#000;font-weight:bold">ANNEALING TEMPERATURE&#160;&#160;(K)</text>
<text x="136.70" y="203.7" textLength="113.20" lengthAdjust="spacing" style="font-family:'Liberation Sans', sans-serif;font-size:10.2px;fill:#000;font-weight:bold">Al-3Mg-0.2Sc-0.12Zr (6p)</text>
<text x="136.70" y="215.3" textLength="80.60" lengthAdjust="spacing" style="font-family:'Liberation Sans', sans-serif;font-size:10.2px;fill:#000;font-weight:bold">Al-3Mg-0.2Sc (8p)</text>
<text x="136.70" y="228.0" textLength="79.60" lengthAdjust="spacing" style="font-family:'Liberation Sans', sans-serif;font-size:10.2px;fill:#000;font-weight:bold">Al-3Mg-0.2Zr (8p)</text>
<text x="135.80" y="244.1" textLength="52.80" lengthAdjust="spacing" style="font-family:'Liberation Sans', sans-serif;font-size:10.2px;fill:#000;font-weight:bold">Al-3Mg (8p)</text>
<text x="526.20" y="338" textLength="69.00" lengthAdjust="spacing" style="font-family:'Liberation Sans', sans-serif;font-size:8px;fill:#000;font-weight:bold">temperature&#160;&#160;[°C]</text>
<text x="563.20" y="181.1" textLength="27.60" lengthAdjust="spacing" style="font-family:'Liberation Sans', sans-serif;font-size:8px;fill:#000;font-weight:bold">AlMgSi</text>
<text x="562.80" y="196.1" textLength="71.00" lengthAdjust="spacing" style="font-family:'Liberation Sans', sans-serif;font-size:8px;fill:#000;font-weight:bold">AlMgSi-0.4Sc0.2Zr</text>
<text x="562.80" y="209.7" textLength="85.60" lengthAdjust="spacing" style="font-family:'Liberation Sans', sans-serif;font-size:8px;fill:#000;font-weight:bold">AlMgSi1Cu-0.4Sc0.2Zr</text>
<text x="82.50" y="34.25" textLength="92.50" lengthAdjust="spacing" style="font-family:'Liberation Sans', sans-serif;font-size:11.5px;fill:#000;fill:#1a1a1a">KAPITAŁ LUDZKI</text>
<text x="82.50" y="43.0" textLength="104.00" lengthAdjust="spacing" style="font-family:'Liberation Sans', sans-serif;font-size:5.6px;fill:#000;fill:#1a1a1a">NARODOWA STRATEGIA SPÓJNOŚCI</text>
<text x="309.10" y="24.7" textLength="54.60" lengthAdjust="spacing" style="font-family:'Liberation Sans', sans-serif;font-size:8.4px;fill:#000;font-weight:bold;fill:#23205a">INSTYTUT</text>
<text x="375.10" y="24.7" textLength="70.50" lengthAdjust="spacing" style="font-family:'Liberation Sans', sans-serif;font-size:8.4px;fill:#000;font-weight:bold;fill:#23205a">METALURGII</text>
<text x="309.60" y="33.8" textLength="0.20" lengthAdjust="spacing" style="font-family:'Liberation Sans', sans-serif;font-size:7.6px;fill:#000;fill:#23205a;stroke:#23205a;stroke-width:0.2">I</text>
<text x="319.00" y="33.8" textLength="47.40" lengthAdjust="spacing" style="font-family:'Liberation Sans', sans-serif;font-size:7.6px;fill:#000;fill:#23205a;stroke:#23205a;stroke-width:0.2">INŻYNIERII</text>
<text x="372.00" y="33.8" textLength="73.10" lengthAdjust="spacing" style="font-family:'Liberation Sans', sans-serif;font-size:7.6px;fill:#000;font-weight:bold;fill:#23205a">MATERIAŁOWEJ</text>
<text x="309.10" y="42.5" textLength="43.30" lengthAdjust="spacing" style="font-family:'Liberation Sans', sans-serif;font-size:8.3px;fill:#000;fill:#23205a;stroke:#23205a;stroke-width:0.2">POLSKIEJ</text>
<text x="365.00" y="42.5" textLength="43.00" lengthAdjust="spacing" style="font-family:'Liberation Sans', sans-serif;font-size:8.3px;fill:#000;fill:#23205a;stroke:#23205a;stroke-width:0.2">AKADEMII</text>
<text x="419.00" y="42.5" textLength="24.60" lengthAdjust="spacing" style="font-family:'Liberation Sans', sans-serif;font-size:8.3px;fill:#000;fill:#23205a;stroke:#23205a;stroke-width:0.2">NAUK</text>
<text x="522.00" y="24.25" textLength="71.00" lengthAdjust="spacing" style="font-family:'Liberation Sans', sans-serif;font-size:7.6px;fill:#000;font-weight:bold;fill:#111">UNIA EUROPEJSKA</text>
<text x="553.50" y="32.5" textLength="39.25" lengthAdjust="spacing" style="font-family:'Liberation Sans', sans-serif;font-size:7px;fill:#000;fill:#111;stroke:#111;stroke-width:0.2">EUROPEJSKI</text>
<text x="518.00" y="41.75" textLength="75.00" lengthAdjust="spacing" style="font-family:'Liberation Sans', sans-serif;font-size:7px;fill:#000;fill:#111;stroke:#111;stroke-width:0.2">FUNDUSZ SPOŁECZNY</text>
</svg>
</body></html>
